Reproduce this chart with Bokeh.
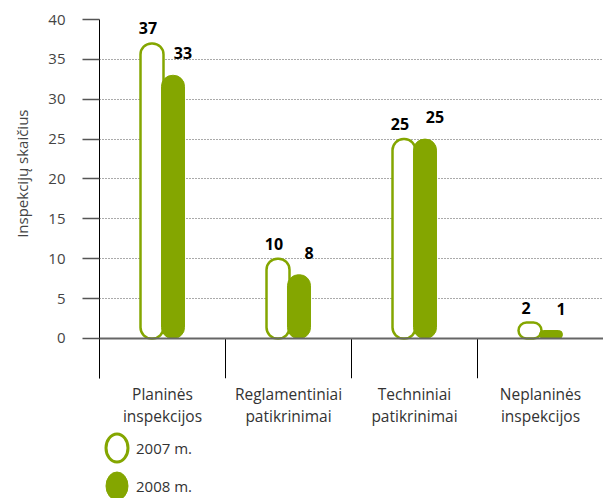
from bokeh.core.properties import value
from bokeh.embed import file_html
from bokeh.layouts import column
from bokeh.models import (ColumnDataSource, FactorRange, FixedTicker, Legend,
                          LegendItem, Range1d, Span, Title)
from bokeh.plotting import figure
from bokeh.resources import INLINE
from bokeh.transform import dodge

# --- data -------------------------------------------------------------
categories = ["Planinės\ninspekcijos", "Reglamentiniai\npatikrinimai",
              "Techniniai\npatikrinimai", "Neplaninės\ninspekcijos"]
inspections_2007 = [37, 10, 25, 2]
inspections_2008 = [33, 8, 25, 1]
series_labels = ["2007 m.", "2008 m."]
y_ticks = [0, 5, 10, 15, 20, 25, 30, 35, 40]
y_title = "Inspekcijų skaičius"

GREEN = "#84a600"
FONT = "Open Sans"
SEP_DEPTH = 5.016  # how far the category separators hang below zero

src = ColumnDataSource(dict(
    cat=categories,
    y2007=inspections_2007,
    y2008=inspections_2008,
    t2007=[str(v) for v in inspections_2007],
    t2008=[str(v) for v in inspections_2008],
))

p = figure(width=603, height=430, output_backend="svg", toolbar_location=None,
           x_range=FactorRange(factors=categories),
           y_range=Range1d(-SEP_DEPTH, 40),
           min_border_left=99, min_border_right=0, min_border_top=19,
           min_border_bottom=52)
p.outline_line_color = None
p.background_fill_color = "white"
p.border_fill_color = "white"

# y axis
p.yaxis.ticker = FixedTicker(ticks=y_ticks)
p.yaxis.axis_line_color = "black"
p.yaxis.axis_line_width = 1
p.yaxis.major_tick_in = 0
p.yaxis.major_tick_out = 17
p.yaxis.major_tick_line_color = "#555555"
p.yaxis.major_tick_line_width = 1.5
p.yaxis.minor_tick_line_color = None
p.yaxis.major_label_standoff = 17
p.yaxis.major_label_text_font = FONT
p.yaxis.major_label_text_font_size = "15px"
p.yaxis.major_label_text_color = "#444444"

p.add_layout(Title(text=y_title, align="right", offset=90,
                   vertical_align="top", standoff=23, text_font=FONT,
                   text_font_size="15px", text_font_style="normal",
                   text_color="#444444"), "left")

# x axis: category names only
p.xaxis.axis_line_color = None
p.xaxis.major_tick_line_color = None
p.xaxis.major_tick_out = 0
p.xaxis.minor_tick_line_color = None
p.xaxis.minor_tick_out = 0
p.xaxis.major_label_standoff = 4
p.xaxis.major_label_text_font = FONT
p.xaxis.major_label_text_font_size = "15.5px"
p.xaxis.major_label_text_line_height = 1.0
p.xaxis.major_label_text_color = "#333333"

# grid
p.xgrid.grid_line_color = None
p.ygrid.ticker = FixedTicker(ticks=y_ticks[1:])
p.ygrid.grid_line_color = "#555555"
p.ygrid.grid_line_dash = "1 2"
p.ygrid.grid_line_width = 1

# baseline and category separators
p.add_layout(Span(location=0, dimension="width", line_color="#666666",
                  line_width=2))
p.segment(x0=dodge("cat", -0.5, range=p.x_range), y0=0,
          x1=dodge("cat", -0.5, range=p.x_range), y1=-SEP_DEPTH,
          source=src, line_color="black", line_width=1)

# capsule bars
BAR_W = 0.1825
OFF = 0.0833
p.vbar(x=dodge("cat", -OFF, range=p.x_range), top="y2007", bottom=0,
       width=BAR_W, source=src, fill_color="white", line_color=GREEN,
       line_width=2.5, border_radius=11)
p.vbar(x=dodge("cat", OFF, range=p.x_range), top="y2008", bottom=0,
       width=BAR_W, source=src, fill_color=GREEN, line_color=GREEN,
       line_width=1, border_radius=11)

# value labels
p.text(x=dodge("cat", -OFF, range=p.x_range), y="y2007", text="t2007",
       source=src, x_offset=-4, y_offset=-15, text_align="center",
       text_baseline="middle", text_font=value(FONT), text_font_style="bold",
       text_font_size="16px", text_color="black")
p.text(x=dodge("cat", OFF, range=p.x_range), y="y2008", text="t2008",
       source=src, x_offset=10, y_offset=-22, text_align="center",
       text_baseline="middle", text_font=value(FONT), text_font_style="bold",
       text_font_size="16px", text_color="black")

# legend strip below the chart
lg = figure(width=603, height=68, output_backend="svg", toolbar_location=None,
            x_range=Range1d(0, 1), y_range=Range1d(0, 1),
            x_axis_location=None, y_axis_location=None,
            min_border=0, outline_line_color=None)
lg.xgrid.visible = False
lg.ygrid.visible = False
e1 = lg.ellipse(x=[-10], y=[-10], width=22, height=28,
                width_units="screen", height_units="screen",
                fill_color="white", line_color=GREEN, line_width=3)
e2 = lg.ellipse(x=[-10], y=[-10], width=22, height=28,
                width_units="screen", height_units="screen",
                fill_color=GREEN, line_color=GREEN, line_width=1)
legend = Legend(items=[LegendItem(label=series_labels[0], renderers=[e1]),
                       LegendItem(label=series_labels[1], renderers=[e2])],
                location=(0, -5), orientation="vertical",
                glyph_width=35, glyph_height=35, spacing=3, padding=0,
                margin=0, label_standoff=2, border_line_color=None,
                background_fill_alpha=0, label_text_font=FONT,
                label_text_font_size="15px", label_text_color="#333333")
lg.add_layout(legend)

page = column(p, lg, spacing=0)
open("out.html", "w").write(file_html(page, INLINE))
